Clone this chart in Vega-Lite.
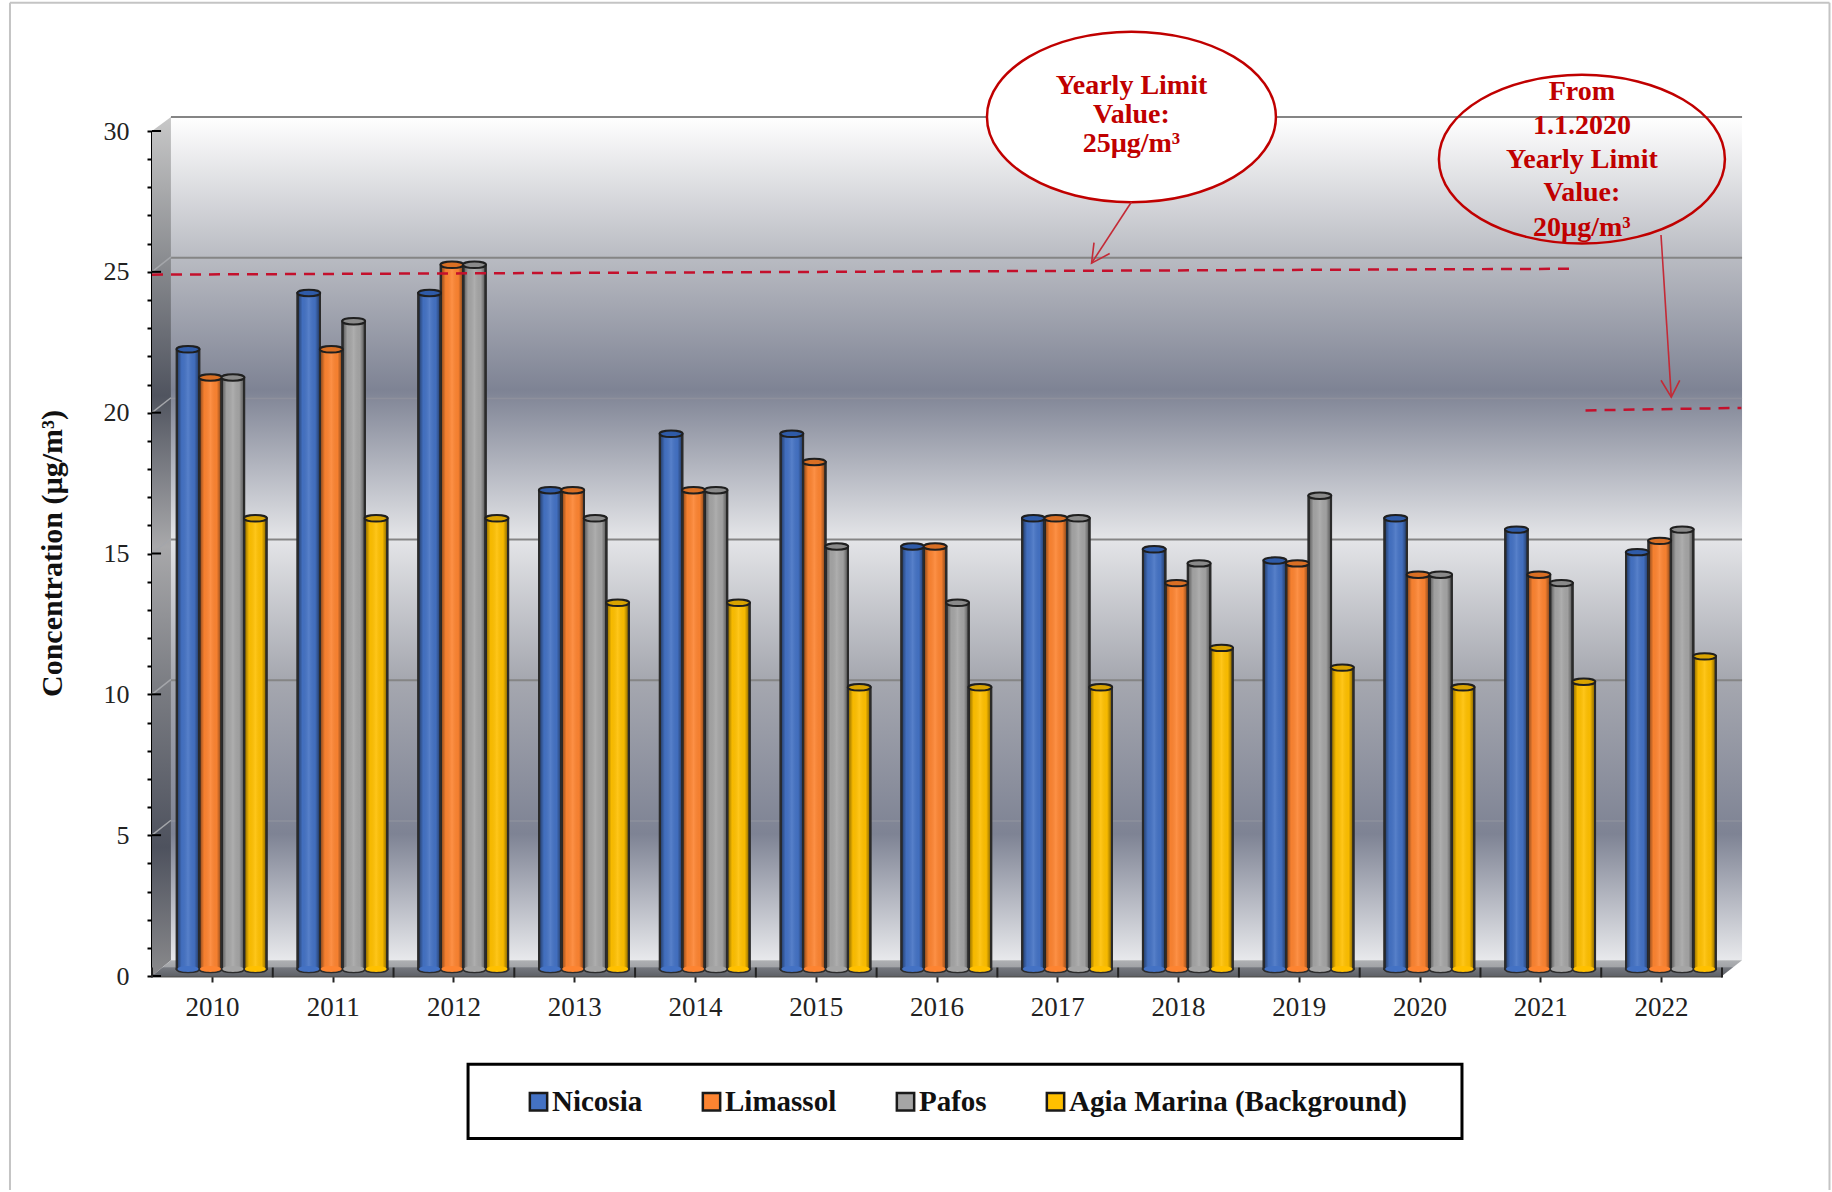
{
"$schema":"https://vega.github.io/schema/vega-lite/v6.json",
"autosize":{"type":"none"},
"padding":{"left":152,"top":131,"right":110,"bottom":216},
"width":1570,"height":845,
"background":"white",
"view":{"stroke":null},
"config":{"font":"Liberation Serif"},
"datasets":{
"pm":[
{"year":"2010","site":"Nicosia","value":22},{"year":"2010","site":"Limassol","value":21},{"year":"2010","site":"Pafos","value":21},{"year":"2010","site":"Agia Marina (Background)","value":16},
{"year":"2011","site":"Nicosia","value":24},{"year":"2011","site":"Limassol","value":22},{"year":"2011","site":"Pafos","value":23},{"year":"2011","site":"Agia Marina (Background)","value":16},
{"year":"2012","site":"Nicosia","value":24},{"year":"2012","site":"Limassol","value":25},{"year":"2012","site":"Pafos","value":25},{"year":"2012","site":"Agia Marina (Background)","value":16},
{"year":"2013","site":"Nicosia","value":17},{"year":"2013","site":"Limassol","value":17},{"year":"2013","site":"Pafos","value":16},{"year":"2013","site":"Agia Marina (Background)","value":13},
{"year":"2014","site":"Nicosia","value":19},{"year":"2014","site":"Limassol","value":17},{"year":"2014","site":"Pafos","value":17},{"year":"2014","site":"Agia Marina (Background)","value":13},
{"year":"2015","site":"Nicosia","value":19},{"year":"2015","site":"Limassol","value":18},{"year":"2015","site":"Pafos","value":15},{"year":"2015","site":"Agia Marina (Background)","value":10},
{"year":"2016","site":"Nicosia","value":15},{"year":"2016","site":"Limassol","value":15},{"year":"2016","site":"Pafos","value":13},{"year":"2016","site":"Agia Marina (Background)","value":10},
{"year":"2017","site":"Nicosia","value":16},{"year":"2017","site":"Limassol","value":16},{"year":"2017","site":"Pafos","value":16},{"year":"2017","site":"Agia Marina (Background)","value":10},
{"year":"2018","site":"Nicosia","value":14.9},{"year":"2018","site":"Limassol","value":13.7},{"year":"2018","site":"Pafos","value":14.4},{"year":"2018","site":"Agia Marina (Background)","value":11.4},
{"year":"2019","site":"Nicosia","value":14.5},{"year":"2019","site":"Limassol","value":14.4},{"year":"2019","site":"Pafos","value":16.8},{"year":"2019","site":"Agia Marina (Background)","value":10.7},
{"year":"2020","site":"Nicosia","value":16},{"year":"2020","site":"Limassol","value":14},{"year":"2020","site":"Pafos","value":14},{"year":"2020","site":"Agia Marina (Background)","value":10},
{"year":"2021","site":"Nicosia","value":15.6},{"year":"2021","site":"Limassol","value":14},{"year":"2021","site":"Pafos","value":13.7},{"year":"2021","site":"Agia Marina (Background)","value":10.2},
{"year":"2022","site":"Nicosia","value":14.8},{"year":"2022","site":"Limassol","value":15.2},{"year":"2022","site":"Pafos","value":15.6},{"year":"2022","site":"Agia Marina (Background)","value":11.1}
],
"wall":[{"x0":2009.657,"x1":2022.666,"y0":0.56,"y1":30.5}],
"side":[{"x":2009.5,"lo":0,"hi":30},{"x":2009.657,"lo":0.56,"hi":30.5}],
"floor":[{"x":2009.5,"lo":0,"hi":0},{"x":2009.657,"lo":0,"hi":0.56},{"x":2022.5,"lo":0,"hi":0.56},{"x":2022.666,"lo":0.56,"hi":0.56}],
"lines":[{"y":30.5,"k":"major"},{"y":25.5,"k":"major"},{"y":20.5,"k":"faint"},{"y":15.5,"k":"major"},{"y":10.5,"k":"major"},{"y":5.5,"k":"faint"}],
"diag":[{"v":5,"w":5.53},{"v":10,"w":10.53},{"v":15,"w":15.53},{"v":20,"w":20.53},{"v":25,"w":25.53}],
"major":[{"v":0},{"v":5},{"v":10},{"v":15},{"v":20},{"v":25},{"v":30}],
"bounds":[{"x":2009.5},{"x":2010.5},{"x":2011.5},{"x":2012.5},{"x":2013.5},{"x":2014.5},{"x":2015.5},{"x":2016.5},{"x":2017.5},{"x":2018.5},{"x":2019.5},{"x":2020.5},{"x":2021.5},{"x":2022.5}],
"limits":[{"g":"a","s":1,"x":2009.5,"y":24.9},{"g":"a","s":2,"x":2021.29,"y":25.11},{"g":"b","s":1,"x":2021.37,"y":20.08},{"g":"b","s":2,"x":2022.66,"y":20.17}],
"arrows":[
{"g":"a","s":1,"x":2017.61,"y":27.48},{"g":"a","s":2,"x":2017.28,"y":25.31},
{"g":"ah","s":1,"x":2017.43,"y":25.65},{"g":"ah","s":2,"x":2017.28,"y":25.31},{"g":"ah","s":3,"x":2017.3,"y":26.04},
{"g":"b","s":1,"x":2021.995,"y":26.31},{"g":"b","s":2,"x":2022.08,"y":20.55},
{"g":"bh","s":1,"x":2021.995,"y":21.15},{"g":"bh","s":2,"x":2022.08,"y":20.55},{"g":"bh","s":3,"x":2022.15,"y":21.15}
],
"callout1":[{"x":2017.61,"y":30.5}],
"callout2":[{"x":2021.34,"y":29.0}],
"notes":[
{"x":2017.61,"y":31.6,"t":"Yearly Limit"},{"x":2017.61,"y":30.58,"t":"Value:"},{"x":2017.61,"y":29.55,"t":"25µg/m³"},
{"x":2021.34,"y":31.39,"t":"From"},{"x":2021.34,"y":30.18,"t":"1.1.2020"},{"x":2021.34,"y":28.97,"t":"Yearly Limit"},{"x":2021.34,"y":27.8,"t":"Value:"},{"x":2021.34,"y":26.55,"t":"20µg/m³"}
],
"box":[{"x0":2012.117,"x1":2020.347,"y0":-3.137,"y1":-5.766}],
"frame":[
{"x0":2008.324,"x1":2008.324,"y0":-7.6,"y1":34.55},
{"x0":2008.324,"x1":2023.39,"y0":34.55,"y1":34.55},
{"x0":2023.39,"x1":2023.39,"y0":-7.6,"y1":34.55}
]
},
"layer":[
{"data":{"name":"wall"},"mark":{"type":"rect","color":{"gradient":"linear","x1":0,"y1":0,"x2":0,"y2":1,"stops":[{"offset":0,"color":"#ffffff"},{"offset":0.167,"color":"#b9bbc2"},{"offset":0.324,"color":"#7e8394"},{"offset":0.5,"color":"#e4e5e8"},{"offset":0.665,"color":"#a6a8b0"},{"offset":0.85,"color":"#7e8394"},{"offset":1,"color":"#e8e9ec"}]}},
 "encoding":{"x":{"field":"x0","type":"quantitative","axis":null,"scale":{"domain":[2009.5,2022.5],"nice":false,"zero":false}},"x2":{"field":"x1"},
 "y":{"field":"y0","type":"quantitative","axis":null,"scale":{"domain":[0,30],"nice":false}},"y2":{"field":"y1"}}},
{"data":{"name":"side"},"mark":{"type":"area","color":{"gradient":"linear","x1":0,"y1":0,"x2":0,"y2":1,"stops":[{"offset":0,"color":"#c8c8c8"},{"offset":0.167,"color":"#8a8c90"},{"offset":0.324,"color":"#50545f"},{"offset":0.5,"color":"#a8a8aa"},{"offset":0.665,"color":"#7a7c82"},{"offset":0.85,"color":"#4e525e"},{"offset":1,"color":"#8a8a8c"}]}},
 "encoding":{"x":{"field":"x","type":"quantitative","axis":null,"scale":{"domain":[2009.5,2022.5],"nice":false,"zero":false}},
 "y":{"field":"hi","type":"quantitative","axis":null,"stack":null,"scale":{"domain":[0,30],"nice":false}},"y2":{"field":"lo"}}},
{"data":{"name":"floor"},"mark":{"type":"area","color":{"gradient":"linear","x1":0,"y1":0,"x2":0,"y2":1,"stops":[{"offset":0,"color":"#aeb0b3"},{"offset":0.42,"color":"#a2a4a8"},{"offset":0.48,"color":"#75787f"},{"offset":1,"color":"#5f6268"}]}},
 "encoding":{"x":{"field":"x","type":"quantitative","axis":null,"scale":{"domain":[2009.5,2022.5],"nice":false,"zero":false}},
 "y":{"field":"hi","type":"quantitative","axis":null,"stack":null,"scale":{"domain":[0,30],"nice":false}},"y2":{"field":"lo"}}},
{"data":{"name":"lines"},"transform":[{"filter":"datum.k === 'major'"}],"mark":{"type":"rule","color":"#858585","strokeWidth":2},
 "encoding":{"x":{"datum":2009.657,"type":"quantitative","axis":null,"scale":{"domain":[2009.5,2022.5],"nice":false,"zero":false}},"x2":{"datum":2022.666},
 "y":{"field":"y","type":"quantitative","axis":null,"scale":{"domain":[0,30],"nice":false}}}},
{"data":{"name":"lines"},"transform":[{"filter":"datum.k === 'faint'"}],"mark":{"type":"rule","color":"#8e909c","strokeWidth":1.5},
 "encoding":{"x":{"datum":2009.657,"type":"quantitative","axis":null,"scale":{"domain":[2009.5,2022.5],"nice":false,"zero":false}},"x2":{"datum":2022.666},
 "y":{"field":"y","type":"quantitative","axis":null,"scale":{"domain":[0,30],"nice":false}}}},
{"data":{"name":"diag"},"mark":{"type":"rule","color":"#a4a6aa","strokeWidth":1.5},
 "encoding":{"x":{"datum":2009.5,"type":"quantitative","axis":null,"scale":{"domain":[2009.5,2022.5],"nice":false,"zero":false}},"x2":{"datum":2009.657},
 "y":{"field":"v","type":"quantitative","axis":null,"scale":{"domain":[0,30],"nice":false}},"y2":{"field":"w"}}},
{"data":{"name":"pm"},"mark":{"type":"point","filled":true,"opacity":1,"shape":"M-1,0 A1,0.28 0 1,0 1,0 A1,0.28 0 1,0 -1,0 Z","size":529,"stroke":"#2b2b2b","strokeWidth":2,"yOffset":-7},
 "encoding":{"x":{"field":"year","type":"ordinal","axis":null,"scale":{"type":"band","paddingInner":0,"paddingOuter":0}},
 "xOffset":{"field":"site","type":"nominal","sort":["Nicosia","Limassol","Pafos","Agia Marina (Background)"],"scale":{"type":"band","paddingInner":0,"paddingOuter":0.69,"align":0.8}},
 "y":{"datum":0,"type":"quantitative","axis":null,"scale":{"domain":[0,30],"nice":false}},
 "color":{"field":"site","type":"nominal","legend":null,"scale":{"domain":["Nicosia","Limassol","Pafos","Agia Marina (Background)"],"range":["#4472c4","#fd8431","#a5a5a5","#ffc000"]}}}},
{"data":{"name":"pm"},"mark":{"type":"bar","stroke":"#2b2b2b","strokeWidth":2,"yOffset":-7,"y2Offset":-7},
 "encoding":{"x":{"field":"year","type":"ordinal","title":null,"scale":{"type":"band","paddingInner":0,"paddingOuter":0},"axis":{"labelAngle":0,"labelFont":"Liberation Serif","labelFontSize":27,"labelColor":"#222222","labelPadding":12,"tickSize":6,"tickWidth":2,"tickColor":"#222222","domainColor":"#555555","domainWidth":2,"grid":false}},
 "xOffset":{"field":"site","type":"nominal","sort":["Nicosia","Limassol","Pafos","Agia Marina (Background)"],"scale":{"type":"band","paddingInner":0,"paddingOuter":0.69,"align":0.8}},
 "y":{"field":"value","type":"quantitative","stack":null,"scale":{"domain":[0,30],"nice":false},"axis":{"values":[0,1,2,3,4,5,6,7,8,9,10,11,12,13,14,15,16,17,18,19,20,21,22,23,24,25,26,27,28,29,30],"labelExpr":"datum.value % 5 === 0 ? datum.label : ''","grid":false,"tickSize":5,"tickWidth":2,"tickColor":"#000000","domainColor":"#000000","domainWidth":3,"labelFont":"Liberation Serif","labelFontSize":26,"labelColor":"#222222","labelPadding":18,"title":"Concentration  (µg/m³)","titleFont":"Liberation Serif","titleFontSize":30,"titleFontWeight":"bold","titleColor":"#111111","titleX":-85,"titleY":422}},
 "y2":{"datum":0},
 "color":{"field":"site","type":"nominal","title":null,"scale":{"domain":["Nicosia","Limassol","Pafos","Agia Marina (Background)"],"range":["#4472c4","#fd8431","#a5a5a5","#ffc000"]},
 "legend":{"orient":"none","legendX":372,"legendY":956,"direction":"horizontal","columns":4,"padding":0,"symbolType":"square","symbolSize":300,"symbolStrokeColor":"#1a1a1a","symbolStrokeWidth":2.5,"labelFont":"Liberation Serif","labelFontSize":29,"labelFontWeight":"bold","labelColor":"#111111","labelOffset":-1,"labelLimit":500,"columnPadding":54,"title":null}}}},
{"data":{"name":"pm"},"mark":{"type":"bar","stroke":"#2b2b2b","strokeWidth":2,"yOffset":-7,"y2Offset":-7,"color":{"gradient":"linear","x1":0,"y1":0,"x2":1,"y2":0,"stops":[{"offset":0,"color":"rgba(0,0,0,0.5)"},{"offset":0.22,"color":"rgba(0,0,0,0.03)"},{"offset":0.5,"color":"rgba(255,255,255,0.1)"},{"offset":0.78,"color":"rgba(0,0,0,0.03)"},{"offset":1,"color":"rgba(0,0,0,0.5)"}]}},
 "encoding":{"x":{"field":"year","type":"ordinal","axis":null,"scale":{"type":"band","paddingInner":0,"paddingOuter":0}},
 "xOffset":{"field":"site","type":"nominal","sort":["Nicosia","Limassol","Pafos","Agia Marina (Background)"],"scale":{"type":"band","paddingInner":0,"paddingOuter":0.69,"align":0.8}},
 "y":{"field":"value","type":"quantitative","stack":null,"axis":null,"scale":{"domain":[0,30],"nice":false}},"y2":{"datum":0}}},
{"data":{"name":"pm"},"mark":{"type":"point","filled":true,"opacity":1,"shape":"M-1,0 A1,0.28 0 1,0 1,0 A1,0.28 0 1,0 -1,0 Z","size":440,"strokeWidth":0,"yOffset":-7},
 "encoding":{"x":{"field":"year","type":"ordinal","axis":null,"scale":{"type":"band","paddingInner":0,"paddingOuter":0}},
 "xOffset":{"field":"site","type":"nominal","sort":["Nicosia","Limassol","Pafos","Agia Marina (Background)"],"scale":{"type":"band","paddingInner":0,"paddingOuter":0.69,"align":0.8}},
 "y":{"datum":0,"type":"quantitative","axis":null,"scale":{"domain":[0,30],"nice":false}},
 "color":{"field":"site","type":"nominal","legend":null,"scale":{"domain":["Nicosia","Limassol","Pafos","Agia Marina (Background)"],"range":["#4472c4","#fd8431","#a5a5a5","#ffc000"]}}}},
{"data":{"name":"pm"},"mark":{"type":"point","filled":true,"opacity":1,"shape":"M-1,0 A1,0.28 0 1,0 1,0 A1,0.28 0 1,0 -1,0 Z","size":529,"stroke":"#1f1f1f","strokeWidth":2,"yOffset":-7},
 "encoding":{"x":{"field":"year","type":"ordinal","axis":null,"scale":{"type":"band","paddingInner":0,"paddingOuter":0}},
 "xOffset":{"field":"site","type":"nominal","sort":["Nicosia","Limassol","Pafos","Agia Marina (Background)"],"scale":{"type":"band","paddingInner":0,"paddingOuter":0.69,"align":0.8}},
 "y":{"field":"value","type":"quantitative","axis":null,"scale":{"domain":[0,30],"nice":false}},
 "color":{"field":"site","type":"nominal","legend":null,"scale":{"domain":["Nicosia","Limassol","Pafos","Agia Marina (Background)"],"range":["#2f5ba8","#d96f24","#8a8a8a","#d9a300"]}}}},
{"data":{"name":"major"},"mark":{"type":"rule","color":"#000000","strokeWidth":2},
 "encoding":{"x":{"datum":2009.5,"type":"quantitative","axis":null,"scale":{"domain":[2009.5,2022.5],"nice":false,"zero":false}},"x2":{"datum":2009.575},
 "y":{"field":"v","type":"quantitative","axis":null,"scale":{"domain":[0,30],"nice":false}}}},
{"data":{"name":"bounds"},"mark":{"type":"rule","color":"#222222","strokeWidth":2},
 "encoding":{"x":{"field":"x","type":"quantitative","axis":null,"scale":{"domain":[2009.5,2022.5],"nice":false,"zero":false}},
 "y":{"datum":0.3,"type":"quantitative","axis":null,"scale":{"domain":[0,30],"nice":false}},"y2":{"datum":-0.05}}},
{"data":{"name":"limits"},"mark":{"type":"line","color":"#c4102c","strokeWidth":2.5,"strokeDash":[11,8]},
 "encoding":{"x":{"field":"x","type":"quantitative","axis":null,"scale":{"domain":[2009.5,2022.5],"nice":false,"zero":false}},
 "y":{"field":"y","type":"quantitative","axis":null,"scale":{"domain":[0,30],"nice":false}},"detail":{"field":"g"},"order":{"field":"s"}}},
{"data":{"name":"callout1"},"mark":{"type":"point","filled":true,"opacity":1,"fill":"#ffffff","stroke":"#c00000","strokeWidth":2.5,"shape":"M-1,0 A1,0.59 0 1,0 1,0 A1,0.59 0 1,0 -1,0 Z","size":83500},
 "encoding":{"x":{"field":"x","type":"quantitative","axis":null,"scale":{"domain":[2009.5,2022.5],"nice":false,"zero":false}},
 "y":{"field":"y","type":"quantitative","axis":null,"scale":{"domain":[0,30],"nice":false}}}},
{"data":{"name":"callout2"},"mark":{"type":"point","filled":false,"opacity":1,"stroke":"#c00000","strokeWidth":2.5,"shape":"M-1,0 A1,0.59 0 1,0 1,0 A1,0.59 0 1,0 -1,0 Z","size":81800},
 "encoding":{"x":{"field":"x","type":"quantitative","axis":null,"scale":{"domain":[2009.5,2022.5],"nice":false,"zero":false}},
 "y":{"field":"y","type":"quantitative","axis":null,"scale":{"domain":[0,30],"nice":false}}}},
{"data":{"name":"arrows"},"mark":{"type":"line","color":"#c42a36","strokeWidth":1.6},
 "encoding":{"x":{"field":"x","type":"quantitative","axis":null,"scale":{"domain":[2009.5,2022.5],"nice":false,"zero":false}},
 "y":{"field":"y","type":"quantitative","axis":null,"scale":{"domain":[0,30],"nice":false}},"detail":{"field":"g"},"order":{"field":"s"}}},
{"data":{"name":"notes"},"mark":{"type":"text","font":"Liberation Serif","fontSize":28,"fontWeight":"bold","color":"#c00000","align":"center","baseline":"middle"},
 "encoding":{"x":{"field":"x","type":"quantitative","axis":null,"scale":{"domain":[2009.5,2022.5],"nice":false,"zero":false}},
 "y":{"field":"y","type":"quantitative","axis":null,"scale":{"domain":[0,30],"nice":false}},"text":{"field":"t"}}},
{"data":{"name":"box"},"mark":{"type":"rect","fillOpacity":0,"stroke":"#000000","strokeWidth":3},
 "encoding":{"x":{"field":"x0","type":"quantitative","axis":null,"scale":{"domain":[2009.5,2022.5],"nice":false,"zero":false}},"x2":{"field":"x1"},
 "y":{"field":"y0","type":"quantitative","axis":null,"scale":{"domain":[0,30],"nice":false}},"y2":{"field":"y1"}}},
{"data":{"name":"frame"},"mark":{"type":"rule","color":"#c4c4c4","strokeWidth":2},
 "encoding":{"x":{"field":"x0","type":"quantitative","axis":null,"scale":{"domain":[2009.5,2022.5],"nice":false,"zero":false}},"x2":{"field":"x1"},
 "y":{"field":"y0","type":"quantitative","axis":null,"scale":{"domain":[0,30],"nice":false}},"y2":{"field":"y1"}}}
],
"resolve":{"scale":{"x":"independent","xOffset":"independent","color":"independent"},"axis":{"x":"independent","y":"independent"},"legend":{"color":"independent"}}
}
